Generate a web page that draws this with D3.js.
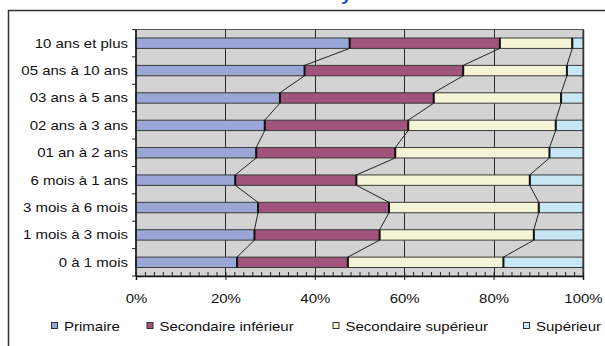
<!DOCTYPE html>
<html>
<head>
<meta charset="utf-8">
<script src="https://cdn.jsdelivr.net/npm/d3@7/dist/d3.min.js"></script>
<style>
  html, body { margin: 0; padding: 0; background: #fff; }
  svg { display: block; }
  text { font-family: "Liberation Sans", Arial, sans-serif; fill: #111; }
</style>
</head>
<body>
<div id="chart"></div>
<script>
// Durée de chômage (de haut en bas)
const categories = [
  "10 ans et plus", "05 ans à 10 ans", "03 ans à 5 ans", "02 ans à 3 ans",
  "01 an à 2 ans", "6 mois à 1 ans", "3 mois à 6 mois", "1 mois à 3 mois", "0 à 1 mois"
];
const seriesNames = ["Primaire", "Secondaire inférieur", "Secondaire supérieur", "Supérieur"];
// Parts en % par niveau d'instruction
const primaire          = [47.8, 37.7, 32.2, 28.8, 26.9, 22.2, 27.3, 26.5, 22.6];
const secondaireInf     = [33.6, 35.5, 34.4, 32.1, 31.1, 27.1, 29.3, 28.0, 24.8];
const secondaireSup     = [16.2, 23.2, 28.5, 33.0, 34.5, 38.8, 33.5, 34.5, 34.8];
const superieur         = [ 2.4,  3.6,  4.9,  6.1,  7.5, 11.9,  9.9, 11.0, 17.8];
const xTickValues = [0, 20, 40, 60, 80, 100];
const xTickLabels = ["0%", "20%", "40%", "60%", "80%", "100%"];
const titleText = "y";

const colors = ["#9aa7d6", "#a1547b", "#f4f4d6", "#c7e7f4"];
const W = 605, H = 346;
const FS = 12.5, SX = 1.2;   // taille de police et étirement horizontal du texte

const rows = categories.map((c, i) => ({
  cat: c,
  [seriesNames[0]]: primaire[i],
  [seriesNames[1]]: secondaireInf[i],
  [seriesNames[2]]: secondaireSup[i],
  [seriesNames[3]]: superieur[i]
}));
const stacked = d3.stack().keys(seriesNames)(rows);

const svg = d3.select("#chart").append("svg").attr("width", W).attr("height", H);

// Titre (au-dessus du cadre)
svg.append("text")
  .attr("transform", `translate(341,0.5) scale(${SX},1)`)
  .style("font-size", "16px").style("font-weight", "bold").style("fill", "#1f4fc0")
  .text(titleText);

// Cadre du graphique
svg.append("path")
  .attr("d", `M8.5,${H + 2} V10.5 H${W + 2}`)
  .attr("fill", "none").attr("stroke", "#333").attr("stroke-width", 1.5);

const px0 = 136, px1 = 583, py0 = 29.5, py1 = 276;
const x = d3.scaleLinear().domain([0, 100]).range([px0, px1]);
const y = d3.scaleBand().domain(categories).range([py0, py1])
  .paddingInner(0.62).paddingOuter(0.31);
const bw = y.bandwidth();

// Zone de traçage
svg.append("rect").attr("x", px0).attr("y", py0)
  .attr("width", px1 - px0).attr("height", py1 - py0)
  .attr("fill", "#d3d3d3").attr("stroke", "#555").attr("stroke-width", 1);

// Quadrillage vertical
svg.append("g").selectAll("line")
  .data(xTickValues.filter(v => v > 0 && v < 100))
  .join("line")
  .attr("x1", d => Math.round(x(d)) + 0.5).attr("x2", d => Math.round(x(d)) + 0.5)
  .attr("y1", py0).attr("y2", py1)
  .attr("stroke", "#2a2a2a").attr("stroke-width", 1);

// Barres empilées
const gBars = svg.append("g");
stacked.forEach((s, k) => {
  gBars.append("g").selectAll("rect")
    .data(s)
    .join("rect")
    .attr("x", d => x(d[0]))
    .attr("width", d => x(d[1]) - x(d[0]))
    .attr("y", d => y(d.data.cat))
    .attr("height", bw)
    .attr("fill", colors[k])
    .attr("stroke", "#3a3a3a").attr("stroke-width", 1);
});

// Séparateurs entre segments
stacked.slice(0, 3).forEach(s => {
  gBars.append("g").selectAll("line")
    .data(s)
    .join("line")
    .attr("x1", d => x(d[1])).attr("x2", d => x(d[1]))
    .attr("y1", d => y(d.data.cat)).attr("y2", d => y(d.data.cat) + bw)
    .attr("stroke", "#111").attr("stroke-width", 2);
});

// Lignes de série reliant les barres voisines
stacked.slice(0, 3).forEach(s => {
  const pairs = d3.pairs(s);
  svg.append("g").selectAll("line")
    .data(pairs)
    .join("line")
    .attr("x1", d => x(d[0][1])).attr("y1", d => y(d[0].data.cat) + bw)
    .attr("x2", d => x(d[1][1])).attr("y2", d => y(d[1].data.cat))
    .attr("stroke", "#222").attr("stroke-width", 1);
});

// Bordure droite de la zone
svg.append("line").attr("x1", px1 + 0.5).attr("x2", px1 + 0.5)
  .attr("y1", py0).attr("y2", py1).attr("stroke", "#333").attr("stroke-width", 1.5);

// Axe des catégories (gauche)
const yEdges = categories.map(c => y(c) - y.step() * y.paddingOuter());
yEdges.push(py1);
svg.append("g").selectAll("line")
  .data(yEdges)
  .join("line")
  .attr("x1", px0 - 4).attr("x2", px0)
  .attr("y1", d => d).attr("y2", d => d)
  .attr("stroke", "#222").attr("stroke-width", 1);
svg.append("line").attr("x1", px0).attr("x2", px0).attr("y1", py0).attr("y2", py1)
  .attr("stroke", "#111").attr("stroke-width", 1.5);

svg.append("g").selectAll("text")
  .data(categories)
  .join("text")
  .attr("transform", d => `translate(128,${y(d) + bw / 2 + 4.5}) scale(${SX},1)`)
  .attr("text-anchor", "end")
  .style("font-size", FS + "px")
  .text(d => d);

// Axe des valeurs (bas) : graduations secondaires vers l'intérieur
svg.append("g")
  .attr("transform", `translate(0,${py1})`)
  .call(d3.axisTop(x).tickValues(d3.range(0, 101, 2)).tickSize(4).tickFormat(""))
  .call(g => g.select(".domain").remove())
  .call(g => g.selectAll("line").attr("stroke", "#222"));

// Graduations principales et étiquettes
const gx = svg.append("g")
  .attr("transform", `translate(0,${py1})`)
  .call(d3.axisBottom(x).tickValues(xTickValues).tickSize(4)
    .tickFormat((d, i) => xTickLabels[i]));
gx.select(".domain").attr("stroke", "#111").attr("stroke-width", 1.5);
gx.selectAll("line").attr("stroke", "#111");
gx.selectAll("text")
  .attr("y", null).attr("dy", null)
  .attr("transform", `translate(0,26.5) scale(${SX},1)`)
  .style("font-size", FS + "px")
  .style("font-family", "'Liberation Sans', Arial, sans-serif")
  .attr("fill", "#111");

// Légende
const legendX = [51, 146.5, 332.5, 523];
const lg = svg.append("g").selectAll("g")
  .data(seriesNames)
  .join("g")
  .attr("transform", (d, i) => `translate(${legendX[i]},326)`);
lg.append("rect")
  .attr("x", 0.5).attr("y", -3.5).attr("width", 6).attr("height", 6)
  .attr("fill", (d, i) => colors[i]).attr("stroke", "#333").attr("stroke-width", 1);
lg.append("text")
  .attr("transform", `translate(13,4.5) scale(${SX},1)`)
  .style("font-size", FS + "px")
  .text(d => d);
</script>
</body>
</html>
